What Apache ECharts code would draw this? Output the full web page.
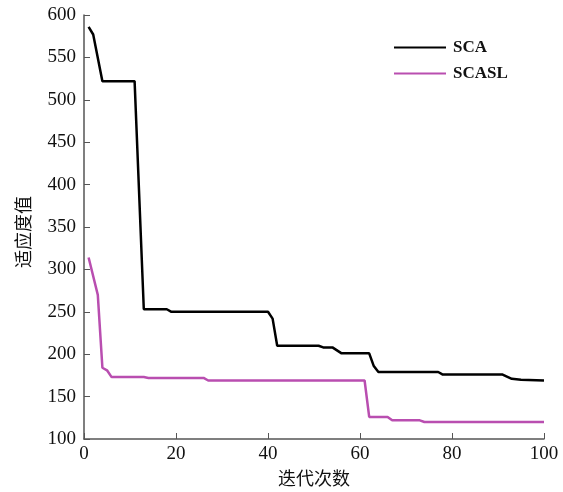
<!DOCTYPE html>
<html>
<head>
<meta charset="utf-8">
<script src="https://cdn.jsdelivr.net/npm/echarts@6/dist/echarts.min.js"></script>
<style>
  html, body { margin: 0; padding: 0; background: #fff; }
  #main { width: 563px; height: 492px; }
</style>
</head>
<body>
<div id="main"></div>
<script>
// 迭代次数 / 适应度值 (读图估计的拐点)
var scaIter  = [1, 2, 4, 11, 13, 18, 19, 40, 41, 42, 51, 52, 54, 56, 62, 63, 64, 77, 78, 91, 93, 95, 100];
var scaFit   = [586, 577, 522, 522, 253, 253, 250, 250, 242, 210, 210, 208, 208, 201, 201, 186, 179, 179, 176, 176, 171, 170, 169];
var scaslIter = [1, 3, 4, 5, 6, 13, 14, 26, 27, 61, 62, 66, 67, 73, 74, 100];
var scaslFit  = [314, 270, 184, 181, 173, 173, 172, 172, 169, 169, 126, 126, 122, 122, 120, 120];
var seriesNames = ['SCA', 'SCASL'];
var xTicks = [0, 20, 40, 60, 80, 100];
var yTicks = [100, 150, 200, 250, 300, 350, 400, 450, 500, 550, 600];

function pairs(xs, ys) {
    var out = [];
    for (var i = 0; i < xs.length; i++) {
        out.push([xs[i], ys[i]]);
    }
    return out;
}

var chart = echarts.init(document.getElementById('main'));
var serif = '"Liberation Serif", "DejaVu Serif", serif';
var axisColor = '#555';

var option = {
    animation: false,
    grid: { left: 84, right: 19, top: 15, bottom: 53 },
    legend: {
        orient: 'vertical',
        left: 389,
        top: 34,
        itemWidth: 52,
        itemHeight: 14,
        itemGap: 9,
        icon: 'path://M0,6 L52,6 L52,8 L0,8 Z',
        textStyle: { fontFamily: serif, fontSize: 17, fontWeight: 'bold', color: '#111', padding: [0, 0, 0, 2] },
        data: seriesNames
    },
    xAxis: {
        type: 'value',
        min: xTicks[0],
        max: xTicks[xTicks.length - 1],
        interval: 20,
        name: '迭代次数',
        nameLocation: 'middle',
        nameGap: 30,
        nameTextStyle: { fontFamily: '"Noto Sans CJK SC", sans-serif', fontSize: 18, color: '#111' },
        axisLine: { show: true, lineStyle: { color: axisColor, width: 1.5 } },
        axisTick: { show: true, inside: true, length: 6, lineStyle: { color: axisColor } },
        axisLabel: { fontFamily: serif, fontSize: 19, color: '#111', margin: 6 },
        splitLine: { show: false }
    },
    yAxis: {
        type: 'value',
        min: yTicks[0],
        max: yTicks[yTicks.length - 1],
        interval: 50,
        name: '适应度值',
        nameLocation: 'middle',
        nameGap: 52,
        nameTextStyle: { fontFamily: '"Noto Sans CJK SC", sans-serif', fontSize: 18, color: '#111', padding: [0, 10, 0, 0] },
        axisLine: { show: true, lineStyle: { color: axisColor, width: 1.5 } },
        axisTick: { show: true, inside: true, length: 6, lineStyle: { color: axisColor } },
        axisLabel: { fontFamily: serif, fontSize: 19, color: '#111', margin: 8 },
        splitLine: { show: false }
    },
    series: [{
        name: seriesNames[0],
        type: 'line',
        showSymbol: false,
        symbol: 'none',
        lineStyle: { color: '#000', width: 2.5 },
        itemStyle: { color: '#000' },
        data: pairs(scaIter, scaFit)
    }, {
        name: seriesNames[1],
        type: 'line',
        showSymbol: false,
        symbol: 'none',
        lineStyle: { color: '#b94eb0', width: 2.5 },
        itemStyle: { color: '#b94eb0' },
        data: pairs(scaslIter, scaslFit)
    }]
};

chart.setOption(option);
</script>
</body>
</html>
